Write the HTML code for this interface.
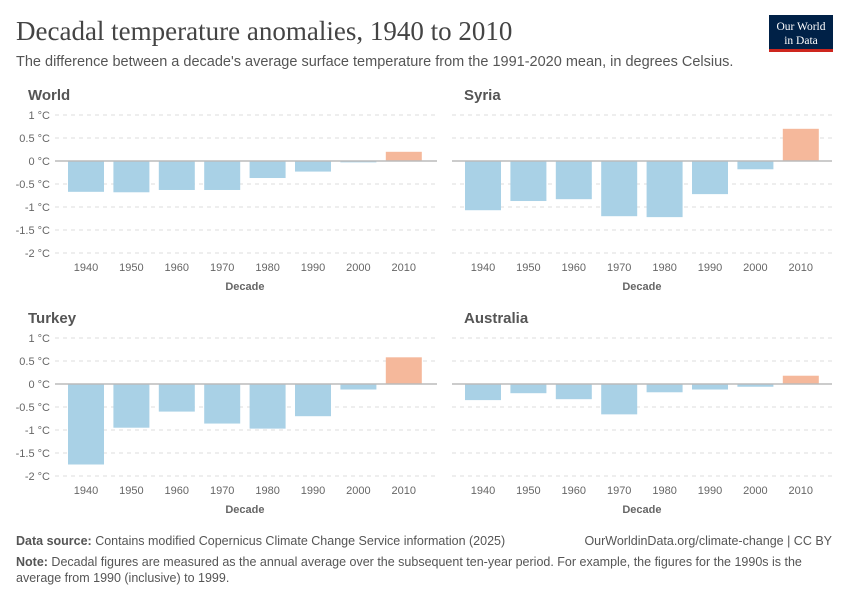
<!DOCTYPE html>
<html><head><meta charset="utf-8"><style>
body{margin:0;background:#fff;font-family:"Liberation Sans",sans-serif;}
.sf{font-family:"Liberation Serif",serif;}
</style></head><body>
<svg id="s" width="850" height="600" xmlns="http://www.w3.org/2000/svg" font-family="Liberation Sans, sans-serif">
<text x="16" y="40" class="sf" style="font-family:'Liberation Serif',serif" font-size="27" fill="#444">Decadal temperature anomalies, 1940 to 2010</text>
<text x="16" y="66" font-size="14.5" fill="#555">The difference between a decade's average surface temperature from the 1991-2020 mean, in degrees Celsius.</text>
<rect x="769" y="15" width="64" height="36" fill="#002147"/>
<rect x="769" y="49" width="64" height="3" fill="#ce261e"/>
<text x="801" y="30" font-size="11.5" fill="#fff" text-anchor="middle" style="font-family:'Liberation Serif',serif">Our World</text>
<text x="801" y="44" font-size="11.5" fill="#fff" text-anchor="middle" style="font-family:'Liberation Serif',serif">in Data</text>
<text x="16" y="545" font-size="12.5" fill="#555"><tspan font-weight="bold">Data source:</tspan> Contains modified Copernicus Climate Change Service information (2025)</text>
<text x="832" y="545" font-size="12.5" fill="#555" text-anchor="end">OurWorldinData.org/climate-change | CC BY</text>
<text x="16" y="566" font-size="12.5" fill="#555"><tspan font-weight="bold">Note:</tspan> Decadal figures are measured as the annual average over the subsequent ten-year period. For example, the figures for the 1990s is the</text>
<text x="16" y="582" font-size="12.5" fill="#555">average from 1990 (inclusive) to 1999.</text>
<g id="g"></g>
</svg>
<script>
var P=[["World",16,55,437,115,[-0.67,-0.68,-0.63,-0.63,-0.37,-0.23,-0.03,0.2]],
["Syria",452,452,832,115,[-1.07,-0.87,-0.83,-1.2,-1.22,-0.72,-0.18,0.7]],
["Turkey",16,55,437,338,[-1.75,-0.95,-0.6,-0.86,-0.97,-0.7,-0.12,0.58]],
["Australia",452,452,832,338,[-0.35,-0.2,-0.33,-0.66,-0.18,-0.12,-0.06,0.18]]];
var h="";
P.forEach(function(p){var lx=p[1],x0=p[2],x1=p[3],y1=p[4],u=46,z=y1+u;
h+='<text x="'+(lx+12)+'" y="'+(y1-15)+'" font-size="15" font-weight="bold" fill="#555">'+p[0]+'</text>';
var labs=["1 °C","0.5 °C","0 °C","-0.5 °C","-1 °C","-1.5 °C","-2 °C"];
for(var i=0;i<7;i++){var y=y1+i*u/2;
if(i!=2)h+='<line x1="'+x0+'" x2="'+x1+'" y1="'+y+'" y2="'+y+'" stroke="#ddd" stroke-dasharray="4,4"/>';
if(lx<100)h+='<text x="50" y="'+(y+4)+'" font-size="11" fill="#666" text-anchor="end">'+labs[i]+'</text>';}
p[5].forEach(function(v,j){var cx=(lx<100?86:483)+j*45.4;var hgt=Math.abs(v)*u;
h+='<rect x="'+(cx-18)+'" y="'+(v<0?z:z-hgt)+'" width="36" height="'+hgt+'" fill="'+(v<0?"#a9d1e6":"#f5b89b")+'"/>';
h+='<text x="'+cx+'" y="'+(y1+156)+'" font-size="11" fill="#666" text-anchor="middle">'+(1940+10*j)+'</text>';});
h+='<line x1="'+x0+'" x2="'+x1+'" y1="'+z+'" y2="'+z+'" stroke="#bbb" stroke-width="1.5"/>';
h+='<text x="'+((lx<100?86:483)+158.9)+'" y="'+(y1+175)+'" font-size="11" font-weight="bold" fill="#666" text-anchor="middle">Decade</text>';});
document.getElementById("g").innerHTML=h;
</script>
</body></html>
